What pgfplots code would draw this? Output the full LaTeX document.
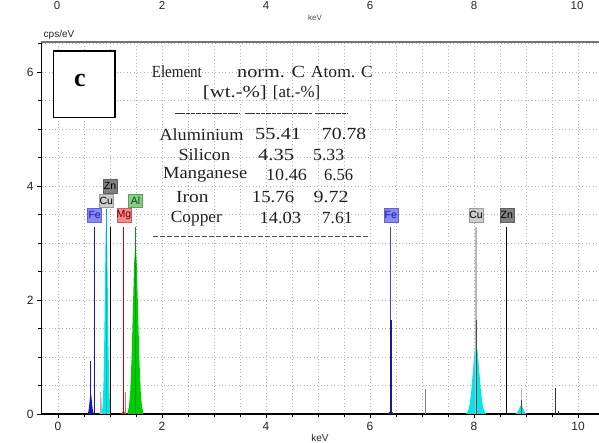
\documentclass[border=0pt]{standalone}
\usepackage{pgfplots}
\pgfplotsset{compat=1.18}
\usepackage{graphicx}
\usepackage{fontspec}
\setmainfont{Liberation Sans}
\newfontfamily\tnr{Liberation Serif}

\definecolor{cyanpk}{RGB}{0,230,235}
\definecolor{greenpk}{RGB}{0,205,0}
\definecolor{bluepk}{RGB}{20,20,200}
\definecolor{navy}{RGB}{25,25,150}
\definecolor{lblFe}{RGB}{135,135,255}
\definecolor{lblCu}{RGB}{205,205,205}
\definecolor{lblZn}{RGB}{128,128,128}
\definecolor{lblMg}{RGB}{255,135,135}
\definecolor{lblAl}{RGB}{135,205,135}

% element label box: position, text, fill, text colour
\newcommand{\elab}[4]{\node[fill=#3, draw=#3!75!black, line width=0.4pt, inner sep=0pt,
  minimum width=14pt, minimum height=13.5pt, text=#4,
  font=\fontsize{10.5}{10.5}\selectfont] at (axis cs:#1) {#2};}
% table cell: left x, centre y, width, text (pixel units)
\newcommand{\cell}[4]{\node[anchor=west, inner sep=0pt, text=black!88]
  at (#1,#2) {\resizebox{#3pt}{\height}{\tnr\fontsize{17}{17}\selectfont #4}};}

\begin{document}
\begin{tikzpicture}
\begin{axis}[
    at={(41.7pt,29pt)}, anchor=south west,
    scale only axis, width=559.7pt, height=370.5pt,
    xmin=-0.313, xmax=10.45, ymin=0, ymax=6.5,
    axis lines*=left,
    axis line style={black, line width=1.2pt},
    xtick={0,2,4,6,8,10}, minor xtick={0,0.5,...,10.5},
    ytick={0,2,4,6}, minor ytick={0.5,1,...,6.5},
    tick align=outside, major tick length=4.5pt, minor tick length=3.5pt,
    tick style={black, line width=0.8pt},
    grid=both,
    major grid style={gray!60, line width=0.6pt, dash pattern=on 1pt off 2.4pt},
    minor grid style={gray!60, line width=0.6pt, dash pattern=on 1pt off 2.4pt},
    ticklabel style={font=\fontsize{12}{12}\selectfont, text=black!85},
    /pgf/number format/assume math mode=true,
    clip=false,
]
% spectrum peaks
\addplot[fill=bluepk, draw=none] coordinates {(0.564,0.004)(0.575,0.016)(0.586,0.05)(0.597,0.12)(0.608,0.224)(0.619,0.327)(0.63,0.37)(0.641,0.327)(0.652,0.224)(0.663,0.12)(0.674,0.05)(0.685,0.016)(0.696,0.004)} \closedcycle;
\addplot[fill=gray!55, draw=none] coordinates {(0.794,0.003)(0.806,0.04)(0.812,0.097)(0.818,0.18)(0.824,0.265)(0.83,0.30)(0.836,0.265)(0.842,0.18)(0.848,0.097)(0.854,0.04)(0.866,0.003)} \closedcycle;
\addplot[fill=cyanpk, draw=none] coordinates {(0.846,0.039)(0.86,0.156)(0.874,0.48)(0.888,1.153)(0.902,2.153)(0.916,3.133)(0.93,3.55)(0.944,3.133)(0.958,2.153)(0.972,1.153)(0.986,0.48)(1.0,0.156)(1.014,0.039)} \closedcycle;
\addplot[fill=red!80, draw=none] coordinates {(1.2,0.001)(1.22,0.008)(1.24,0.036)(1.26,0.06)(1.28,0.036)(1.3,0.008)(1.32,0.001)} \closedcycle;
\addplot[fill=greenpk, draw=none] coordinates {(1.34,0.033)(1.365,0.132)(1.39,0.406)(1.415,0.974)(1.44,1.82)(1.465,2.648)(1.49,3.0)(1.515,2.648)(1.54,1.82)(1.565,0.974)(1.59,0.406)(1.615,0.132)(1.64,0.033)} \closedcycle;
\addplot[fill=bluepk, draw=none] coordinates {(6.34,0)(6.37,0.03)(6.40,0.05)(6.43,0.03)(6.46,0)} \closedcycle;
\addplot[fill=cyanpk, draw=none] coordinates {(7.854,0.014)(7.885,0.054)(7.916,0.166)(7.947,0.399)(7.978,0.746)(8.009,1.085)(8.04,1.25)(8.071,1.085)(8.102,0.746)(8.133,0.399)(8.164,0.166)(8.195,0.054)(8.226,0.014)} \closedcycle;
\addplot[fill=cyanpk, draw=none] coordinates {(8.785,0.002)(8.805,0.007)(8.825,0.02)(8.845,0.049)(8.865,0.091)(8.885,0.132)(8.905,0.15)(8.925,0.132)(8.945,0.091)(8.965,0.049)(8.985,0.02)(9.005,0.007)(9.025,0.002)} \closedcycle;
% thin spectrum lines
\addplot[bluepk, line width=0.8pt] coordinates {(0.63,0)(0.63,0.93)};
\addplot[gray!60, line width=0.8pt] coordinates {(0.82,0)(0.82,0.39)};
\addplot[red!60, line width=0.7pt] coordinates {(1.29,0)(1.29,0.39)};
\addplot[bluepk!60, line width=0.9pt] coordinates {(7.06,0)(7.06,0.44)};
\addplot[gray!55, line width=0.9pt] coordinates {(8.905,0)(8.905,0.46)};
\addplot[black!75, line width=0.7pt] coordinates {(8.905,0)(8.905,0.25)};
\addplot[black!80, line width=0.9pt] coordinates {(9.57,0)(9.57,0.46)};
\addplot[black!80, line width=0.6pt] coordinates {(9.62,0)(9.62,0.05)};
% element marker lines
\addplot[navy, line width=1pt] coordinates {(0.705,0)(0.705,3.28)};
\addplot[cyanpk!80!black, line width=1.2pt] coordinates {(0.93,0)(0.93,3.60)};
\addplot[black, line width=1pt] coordinates {(1.012,0)(1.012,3.28)};
\addplot[black, line width=1.4pt] coordinates {(1.012,0)(1.012,1.26)};
\addplot[red!80!black, line width=0.8pt] coordinates {(1.254,0)(1.254,3.28)};
\addplot[green!60!black, line width=0.8pt] coordinates {(1.487,0)(1.487,3.28)};
\addplot[navy!80, line width=0.9pt] coordinates {(6.40,0)(6.40,3.28)};
\addplot[navy, line width=1.6pt] coordinates {(6.40,0)(6.40,1.65)};
\addplot[gray!55, line width=1.2pt] coordinates {(8.04,0)(8.04,3.28)};
\addplot[black!70, line width=1pt] coordinates {(8.04,0)(8.04,1.65)};
\addplot[black, line width=1pt] coordinates {(8.63,0)(8.63,3.28)};
\addplot[black, line width=1.4pt] coordinates {(8.63,0)(8.63,1.65)};
% element labels
\elab{1.0,4.0}{Zn}{lblZn}{black}
\elab{0.93,3.74}{Cu}{lblCu}{black}
\elab{1.49,3.74}{Al}{lblAl}{green!30!black}
\elab{0.705,3.49}{Fe}{lblFe}{navy}
\elab{1.27,3.49}{Mg}{lblMg}{red!40!black}
\elab{6.40,3.49}{Fe}{lblFe}{navy}
\elab{8.04,3.49}{Cu}{lblCu}{black}
\elab{8.63,3.49}{Zn}{lblZn}{black}
\end{axis}

\begin{scope}[x=1pt, y=-1pt, shift={(0pt,443pt)}]
% top border of the plot frame
\draw[line width=2.5pt, black!55] (41,42) -- (605,42);
% axis titles
\node[font=\fontsize{10}{10}\selectfont, text=black!85] at (59,35) {cps/eV};
\node[font=\fontsize{10}{10}\selectfont, text=black!85] at (320,438) {keV};
% tick labels of the panel above
\foreach \xx/\lab in {57/0,162/2,266/4,370/6,474/8,577/10}
  \node[font=\fontsize{11.5}{11.5}\selectfont, text=black!85] at (\xx,5.5) {\lab};
\node[font=\fontsize{8}{8}\selectfont, text=black!70] at (315,18) {keV};
% panel letter
\draw[line width=1.3pt, fill=white] (53.3,51) rectangle (115,117.3);
\node[font=\tnr\bfseries\fontsize{26}{26}\selectfont] at (80,81) {c};
% composition table
\cell{151.7}{71.7}{50}{Element}
\cell{237}{71.7}{68}{norm. C}
\cell{310.7}{71.7}{62}{Atom. C}
\cell{202.7}{92.7}{64}{[wt.-\%]}
\cell{272.7}{92.7}{47.3}{[at.-\%]}
\draw[black!80, line width=0.9pt, dash pattern=on 4.5pt off 0.8pt] (175,113) -- (240,113);
\draw[black!80, line width=0.9pt, dash pattern=on 4.5pt off 0.8pt] (245,113) -- (311.7,113);
\draw[black!80, line width=0.9pt, dash pattern=on 4.5pt off 0.8pt] (315,113) -- (348.3,113);
\cell{159.3}{134.3}{84}{Aluminium}
\cell{255}{134.3}{46}{55.41}
\cell{321.7}{134.3}{44.3}{70.78}
\cell{178.3}{155}{51.7}{Silicon}
\cell{258}{155}{36}{4.35}
\cell{313}{155}{31}{5.33}
\cell{163}{175}{84}{Manganese}
\cell{266}{175}{40.7}{10.46}
\cell{324}{175}{29}{6.56}
\cell{176}{196.7}{32.3}{Iron}
\cell{251.7}{196.7}{42.3}{15.76}
\cell{313.3}{196.7}{35}{9.72}
\cell{170.7}{218.3}{51}{Copper}
\cell{259.3}{218.3}{41.7}{14.03}
\cell{321.7}{218.3}{30.6}{7.61}
\draw[black!70, line width=1pt, dash pattern=on 5pt off 2pt] (153.3,236.7) -- (370,236.7);
% picture frame
\pgfresetboundingbox
\path[use as bounding box] (0,0) rectangle (599,443);
\end{scope}
\end{tikzpicture}
\end{document}
